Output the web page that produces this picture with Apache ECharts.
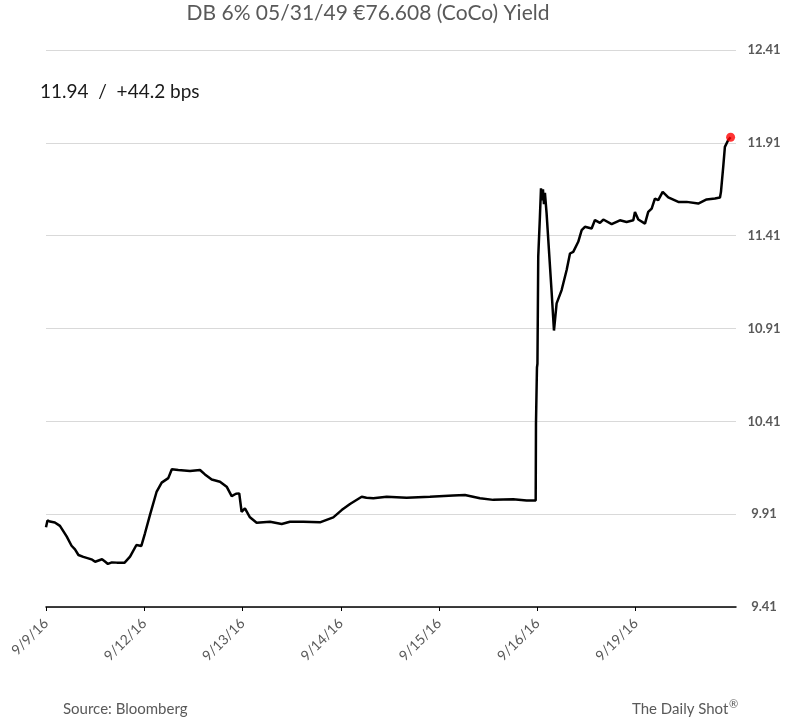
<!DOCTYPE html>
<html>
<head>
<meta charset="utf-8">
<script src="https://cdn.jsdelivr.net/npm/echarts@6/dist/echarts.min.js"></script>
<style>
html,body{margin:0;padding:0;background:#fff;}
#chart{width:798px;height:723px;}
</style>
</head>
<body>
<div id="chart"></div>
<script>
// Day index (0 = 9/9/16, trading days) and yield values
var dayLabels = ['9/9/16','9/12/16','9/13/16','9/14/16','9/15/16','9/16/16','9/19/16'];
var days = [
  0.000,0.015,0.040,0.090,0.142,0.210,0.260,0.295,0.330,0.380,0.430,0.470,0.500,0.570,0.600,0.630,0.670,0.720,0.800,0.855,
  0.920,0.970,1.007,1.058,1.126,1.177,1.244,1.280,1.346,1.465,1.567,1.617,1.686,1.770,1.838,1.889,1.933,1.966,1.990,2.024,
  2.075,2.143,2.279,2.398,2.482,2.618,2.787,2.923,3.008,3.093,3.212,3.260,3.330,3.466,3.669,3.906,4.143,4.262,4.415,4.550,
  4.753,4.890,4.982,4.985,4.995,5.000,5.008,5.025,5.036,5.046,5.056,5.066,5.076,5.093,5.145,5.168,5.195,5.246,5.297,5.331,
  5.364,5.415,5.450,5.483,5.551,5.585,5.636,5.670,5.755,5.839,5.907,5.975,5.992,6.026,6.094,6.127,6.162,6.195,6.229,6.274,
  6.331,6.433,6.518,6.636,6.721,6.806,6.857,6.867,6.890,6.907,6.941,6.965
];
var yields = [
  9.840,9.876,9.870,9.865,9.847,9.790,9.740,9.720,9.690,9.680,9.672,9.665,9.654,9.667,9.655,9.642,9.650,9.649,9.649,9.681,
  9.744,9.739,9.807,9.906,10.032,10.080,10.104,10.152,10.148,10.142,10.148,10.124,10.097,10.085,10.058,10.007,10.020,10.022,9.923,9.941,
  9.893,9.864,9.869,9.857,9.869,9.869,9.866,9.893,9.932,9.965,10.004,9.998,9.996,10.004,9.999,10.004,10.010,10.013,9.996,9.987,
  9.990,9.983,9.983,10.400,10.700,10.720,11.297,11.512,11.665,11.600,11.660,11.580,11.640,11.530,11.100,10.899,11.045,11.117,11.225,11.314,
  11.323,11.377,11.440,11.458,11.449,11.494,11.479,11.497,11.472,11.493,11.484,11.493,11.538,11.497,11.475,11.538,11.556,11.610,11.601,11.646,
  11.616,11.592,11.592,11.583,11.605,11.610,11.616,11.646,11.780,11.888,11.925,11.940
];
var yTickLabels = ['9.41','9.91','10.41','10.91','11.41','11.91','12.41'];
var yBase = 9.41;
var titleText = 'DB 6% 05/31/49 €76.608 (CoCo) Yield';
var noteText = '11.94  /  +44.2 bps';

var lineData = days.map(function(d, i){ return [d, +(yields[i] - yBase).toFixed(4)]; });
var lastPoint = lineData[lineData.length - 1];

var chart = echarts.init(document.getElementById('chart'));
var FONT = 'Lato';
chart.setOption({
  animation: false,
  backgroundColor: '#ffffff',
  grid: { left: 46, right: 62, top: 50, bottom: 116, containLabel: false },
  xAxis: {
    type: 'value',
    min: 0,
    max: 7.02,
    interval: 1,
    axisLine: { show: true, lineStyle: { color: '#000', width: 1.5 } },
    axisTick: { show: true, length: 4, lineStyle: { color: '#000' }, customValues: [0,1,2,3,4,5,6] },
    splitLine: { show: false },
    axisLabel: {
      customValues: [0,1,2,3,4,5,6],
      rotate: 45,
      margin: 14,
      color: '#595959',
      fontFamily: FONT,
      fontSize: 14,
      formatter: function(v){ return dayLabels[Math.round(v)] || ''; }
    }
  },
  yAxis: {
    type: 'value',
    position: 'right',
    min: 0,
    max: 3,
    interval: 0.5,
    axisLine: { show: false },
    axisTick: { show: false },
    splitLine: { show: true, lineStyle: { color: '#d9d9d9', width: 1 } },
    axisLabel: {
      margin: 28,
      align: 'center',
      color: '#595959',
      fontFamily: FONT,
      fontWeight: 'bold',
      fontSize: 13,
      formatter: function(v){ return yTickLabels[Math.round(v / 0.5)] || ''; }
    }
  },
  series: [
    {
      type: 'line',
      data: lineData,
      showSymbol: false,
      symbol: 'none',
      lineStyle: { color: '#000', width: 2.5 },
      z: 2
    },
    {
      type: 'scatter',
      data: [lastPoint],
      symbolSize: 9,
      itemStyle: { color: '#ff0000' },
      z: 3
    }
  ],
  graphic: [
    { type: 'text', x: 368, y: 3, style: { text: titleText, align: 'center', fontFamily: FONT, fontSize: 21, fill: '#595959' } },
    { type: 'text', left: 40, top: 82, style: { text: noteText, fontFamily: FONT, fontSize: 19, fill: '#1a1a1a' } },
    { type: 'text', left: 63, top: 702, style: { text: 'Source: Bloomberg', fontFamily: FONT, fontSize: 15, fill: '#595959' } },
    { type: 'text', left: 632, top: 702, style: { text: 'The Daily Shot', fontFamily: FONT, fontSize: 15, fill: '#595959' } },
    { type: 'text', left: 729, top: 699, style: { text: '®', fontFamily: FONT, fontSize: 11, fill: '#595959' } }
  ]
});
</script>
</body>
</html>
